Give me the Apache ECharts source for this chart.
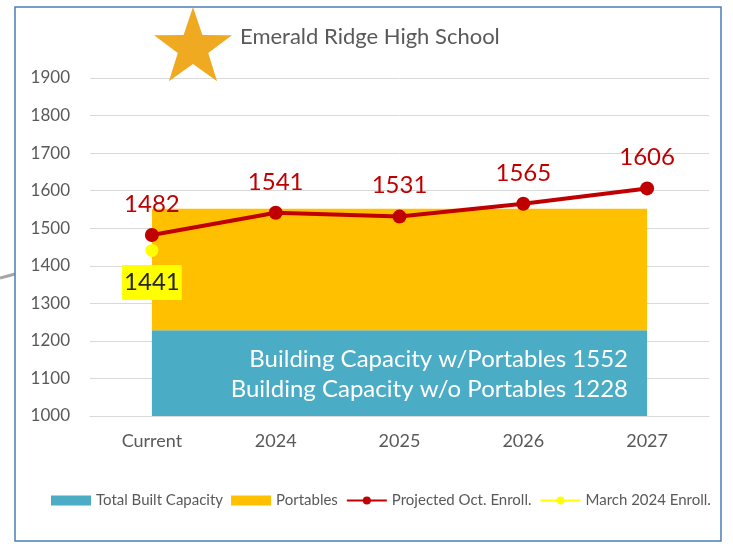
<!DOCTYPE html>
<html>
<head>
<meta charset="UTF-8">
<title>Emerald Ridge High School</title>
<script src="https://cdn.jsdelivr.net/npm/echarts@6/dist/echarts.min.js"></script>
<style type="text/css">
body{margin:0;padding:0;background:#fff;}
#main{width:733px;height:544px;}
</style>
</head>
<body>
<div id="main"></div>
<script type="text/javascript">
// data
var years = ['Current', '2024', '2025', '2026', '2027'];
var builtCapacity = [1228, 1228, 1228, 1228, 1228];
var portables = [324, 324, 324, 324, 324];      // 1552 - 1228
var projectedOct = [1482, 1541, 1531, 1565, 1606];
var march2024 = [1441, '-', '-', '-', '-'];
var capacityNote = ['Building Capacity w/Portables 1552', 'Building Capacity w/o Portables 1228'];

var font = 'Lato';
var grey = '#595959';

// star shape next to the title
function starPoints(cx, cy, r1, r2) {
    var pts = [];
    for (var i = 0; i < 10; i++) {
        var r = i % 2 ? r2 : r1;
        var a = -Math.PI / 2 + i * Math.PI / 5;
        pts.push([cx + r * Math.cos(a), cy + r * Math.sin(a)]);
    }
    return pts;
}

var myChart = echarts.init(document.getElementById('main'));
myChart.setOption({
    animation: false,
    textStyle: { fontFamily: font },
    grid: { left: 90, right: 24, top: 78, bottom: 128 },
    legend: {
        top: 488,
        left: 46,
        itemWidth: 40,
        itemHeight: 10,
        itemGap: 8,
        textStyle: { fontSize: 15, color: grey, fontFamily: font },
        data: [
            { name: 'Total Built Capacity', icon: 'rect' },
            { name: 'Portables', icon: 'rect' },
            'Projected Oct. Enroll.',
            'March 2024 Enroll.'
        ]
    },
    xAxis: {
        type: 'category',
        boundaryGap: true,
        data: years,
        axisLine: { show: true, lineStyle: { color: '#d9d9d9' } },
        axisTick: { show: false },
        axisLabel: { color: grey, fontSize: 18, margin: 16, fontFamily: font }
    },
    yAxis: {
        type: 'value',
        min: 1000,
        max: 1900,
        interval: 100,
        axisLine: { show: false },
        axisTick: { show: false },
        axisLabel: {
            color: grey, fontSize: 17, margin: 20, fontFamily: font,
            formatter: function (v) { return String(v); }
        },
        splitLine: { lineStyle: { color: '#d9d9d9', width: 1 } }
    },
    series: [
        {
            name: 'Total Built Capacity',
            type: 'line',
            stack: 'cap',
            symbol: 'none',
            color: '#4bacc6',
            lineStyle: { width: 0 },
            areaStyle: { color: '#4bacc6', opacity: 1 },
            data: builtCapacity
        },
        {
            name: 'Portables',
            type: 'line',
            stack: 'cap',
            symbol: 'none',
            color: '#ffc000',
            lineStyle: { width: 0 },
            areaStyle: { color: '#ffc000', opacity: 1 },
            data: portables
        },
        {
            name: 'Projected Oct. Enroll.',
            type: 'line',
            color: '#c00000',
            symbol: 'circle',
            symbolSize: 14,
            lineStyle: { width: 4, color: '#c00000' },
            itemStyle: { color: '#c00000' },
            z: 5,
            label: {
                show: true,
                position: 'top',
                distance: 12,
                color: '#c00000',
                fontSize: 24,
                fontFamily: font
            },
            data: projectedOct
        },
        {
            name: 'March 2024 Enroll.',
            type: 'line',
            color: '#ffff00',
            symbol: 'circle',
            symbolSize: 13,
            lineStyle: { width: 4, color: '#ffff00' },
            itemStyle: { color: '#ffff00' },
            z: 4,
            label: {
                show: true,
                position: 'bottom',
                distance: 8,
                color: '#262626',
                fontSize: 24,
                lineHeight: 35,
                fontFamily: font,
                backgroundColor: '#ffff00',
                padding: [0, 2]
            },
            data: march2024
        }
    ],
    graphic: [
        {
            type: 'rect',
            shape: { x: 15, y: 7, width: 706, height: 534 },
            style: { fill: 'none', stroke: '#4a7ebb', lineWidth: 1.5 },
            z: 100
        },
        {
            type: 'line',
            shape: { x1: 0, y1: 278, x2: 15, y2: 274 },
            style: { stroke: '#a6a6a6', lineWidth: 3 }
        },
        {
            type: 'polygon',
            shape: { points: starPoints(193, 48, 41, 16) },
            style: { fill: '#f0aa22' },
            z: 100
        },
        {
            type: 'text',
            left: 240,
            top: 26,
            style: { text: 'Emerald Ridge High School', fill: grey, font: '22px Lato' },
            z: 100
        },
        {
            type: 'text',
            x: 628,
            y: 344,
            style: {
                text: capacityNote.join('\n'),
                fill: '#ffffff',
                font: '24px Lato',
                align: 'right',
                lineHeight: 30
            },
            z: 100
        }
    ]
});
</script>
</body>
</html>
